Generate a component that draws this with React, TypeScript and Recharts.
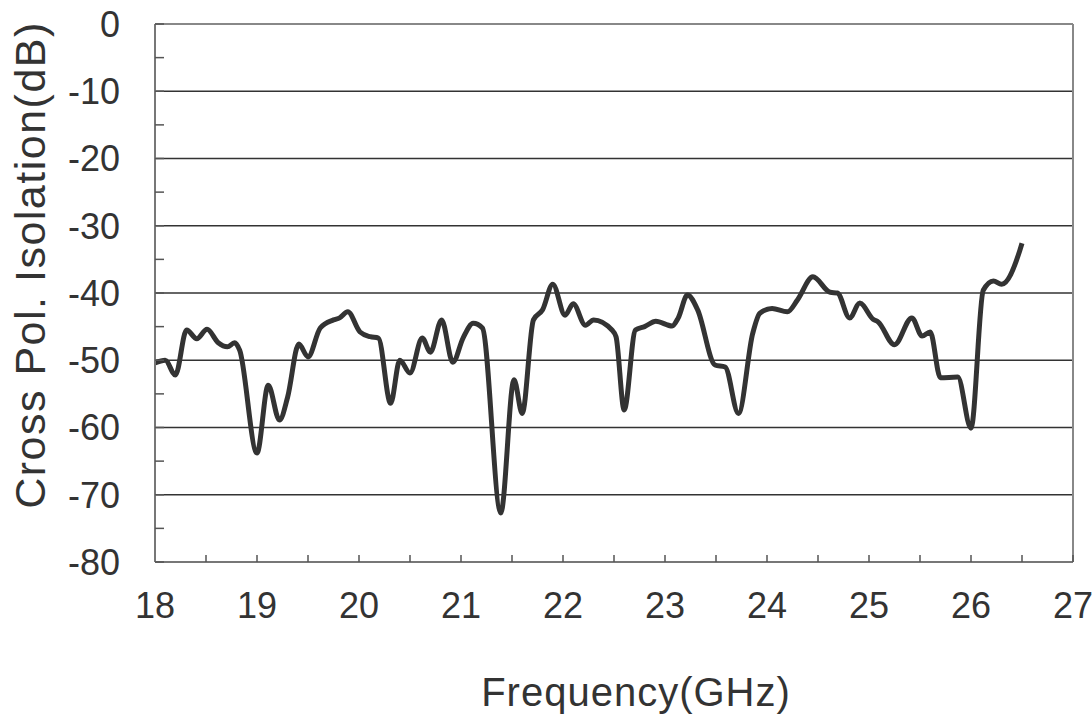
import { LineChart, Line, XAxis, YAxis, ReferenceLine, Label } from 'recharts'

const FREQ = [
  18.0, 18.1, 18.2, 18.31, 18.41, 18.51, 18.62, 18.71, 18.78, 18.83, 19.0, 19.11, 19.22, 19.3, 19.41,
  19.5, 19.62, 19.75, 19.81, 19.89, 20.01, 20.11, 20.19, 20.31, 20.4, 20.5, 20.62, 20.7, 20.81, 20.92,
  21.02, 21.12, 21.21, 21.39, 21.52, 21.6, 21.71, 21.8, 21.9, 22.02, 22.1, 22.22, 22.3, 22.48, 22.52,
  22.6, 22.71, 22.8, 22.91, 23.07, 23.13, 23.22, 23.32, 23.49, 23.59, 23.72, 23.86, 23.93, 24.05,
  24.2, 24.3, 24.45, 24.62, 24.69, 24.81, 24.91, 25.04, 25.09, 25.25, 25.42, 25.52, 25.6, 25.7, 25.87,
  26.0, 26.12, 26.22, 26.3, 26.48, 26.5,
]
const ISOLATION = [
  -50.4, -50.0, -52.2, -45.5, -46.8, -45.4, -47.4, -48.0, -47.4, -48.5, -63.8, -53.7, -58.9, -55.5, -47.6,
  -49.5, -45.2, -44.0, -43.7, -42.8, -45.8, -46.5, -46.7, -56.4, -50.0, -51.9, -46.7, -48.8, -44.0, -50.3,
  -46.7, -44.5, -45.2, -72.7, -52.9, -57.9, -44.0, -42.5, -38.7, -43.3, -41.6, -44.8, -44.0, -45.5, -46.5,
  -57.4, -45.5, -45.0, -44.2, -44.9, -43.7, -40.3, -42.5, -50.7, -51.0, -57.9, -46.0, -43.0, -42.3,
  -42.8, -41.0, -37.6, -39.9, -40.0, -43.7, -41.5, -43.9, -44.3, -47.7, -43.7, -46.4, -45.8, -52.6, -52.5,
  -60.1, -39.6, -38.2, -38.7, -33.6, -32.6,
]
const X_TICKS = [18, 18.5, 19, 19.5, 20, 20.5, 21, 21.5, 22, 22.5, 23, 23.5, 24, 24.5, 25, 25.5, 26, 26.5, 27]
const Y_TICKS = [-80, -75, -70, -65, -60, -55, -50, -45, -40, -35, -30, -25, -20, -15, -10, -5, 0]
const GRID_Y = [-70, -60, -50, -40, -30, -20, -10]

const data = FREQ.map((f, i) => ({ freq: f, iso: ISOLATION[i] }))

const FONT = '"Liberation Sans", Arial, sans-serif'
const TEXT = '#333'

export default function App() {
  return (
    <div style={{ position: 'absolute', left: 0, top: 0, width: 1092, height: 722, background: '#fff' }}>
      <LineChart width={1092} height={722} data={data} margin={{ top: 24, right: 19, left: 0, bottom: 0 }}>
        <XAxis
          dataKey="freq"
          type="number"
          domain={[18, 27]}
          ticks={X_TICKS}
          interval={0}
          height={160}
          tickFormatter={(v) => (Number.isInteger(v) ? String(v) : '')}
          tickSize={-7}
          tickMargin={37}
          tick={{ fill: TEXT, fontSize: 36, fontFamily: FONT }}
          axisLine={{ stroke: '#777', strokeWidth: 2 }}
          tickLine={{ stroke: '#555', strokeWidth: 1.5 }}
        >
          <Label
            content={() => (
              <text x={636} y={706} textAnchor="middle" fill={TEXT} fontSize={40} fontFamily={FONT} letterSpacing={1}>
                Frequency(GHz)
              </text>
            )}
          />
        </XAxis>
        <YAxis
          type="number"
          domain={[-80, 0]}
          ticks={Y_TICKS}
          interval={0}
          width={155}
          tickFormatter={(v) => (v % 10 === 0 ? String(v) : '')}
          tickSize={-9}
          tickMargin={44}
          tick={{ fill: TEXT, fontSize: 36, fontFamily: FONT }}
          axisLine={{ stroke: '#777', strokeWidth: 2 }}
          tickLine={{ stroke: '#555', strokeWidth: 1.5 }}
        >
          <Label
            content={() => (
              <text
                x={45}
                y={265}
                transform="rotate(-90 45 265)"
                textAnchor="middle"
                fill={TEXT}
                fontSize={43}
                fontFamily={FONT}
                letterSpacing={1.5}
              >
                Cross Pol. Isolation(dB)
              </text>
            )}
          />
        </YAxis>
        {GRID_Y.map((v) => (
          <ReferenceLine key={v} y={v} stroke="#333" strokeWidth={1.5} />
        ))}
        <ReferenceLine y={0} stroke="#888" strokeWidth={2} />
        <ReferenceLine x={27} stroke="#888" strokeWidth={2} />
        <Line
          type="monotone"
          dataKey="iso"
          stroke="#333"
          strokeWidth={5}
          dot={false}
          isAnimationActive={false}
        />
      </LineChart>
    </div>
  )
}
